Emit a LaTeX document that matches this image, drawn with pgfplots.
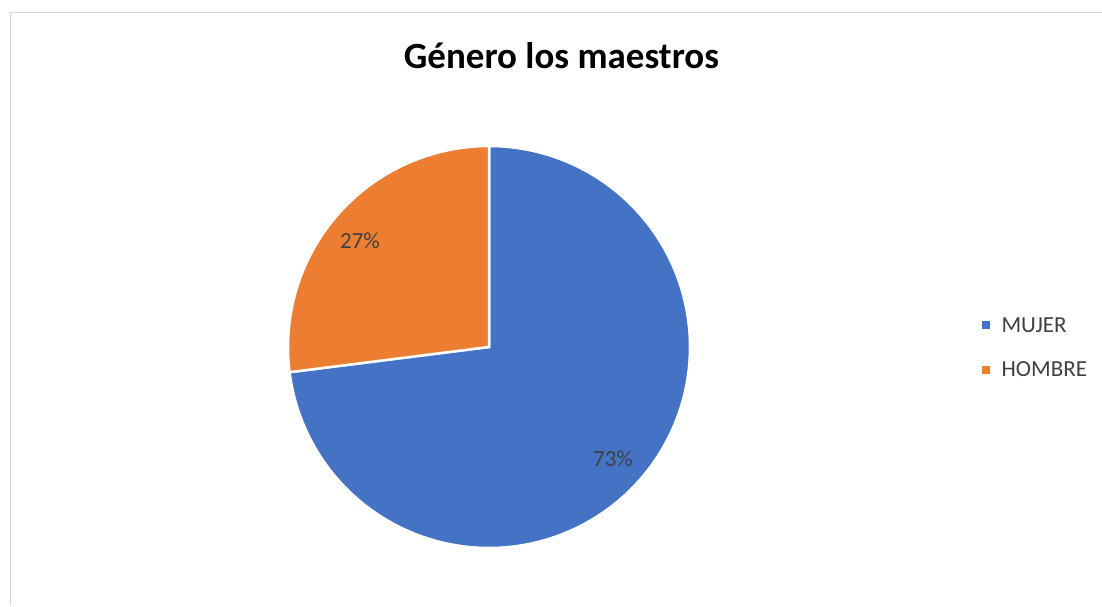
\documentclass[border=0pt]{standalone}
\usepackage{pgfplots}
\pgfplotsset{compat=1.18}
\usepackage{fontspec}
\setmainfont{Carlito}

\definecolor{mujer}{HTML}{4472C4}
\definecolor{hombre}{HTML}{ED7D31}
\definecolor{txt}{HTML}{404040}
\definecolor{marco}{HTML}{D9D9D9}

% porcentajes
\def\pMujer{73}
\def\pHombre{27}
% centro y radio de la torta (en pixeles)
\def\cx{489}
\def\cy{347}
\def\r{201}

\begin{document}
\begin{tikzpicture}
\pgfmathsetmacro{\aIni}{90}
\pgfmathsetmacro{\aMed}{90-3.6*\pMujer}
\pgfmathsetmacro{\aFin}{90-3.6*(\pMujer+\pHombre)}
\begin{axis}[
    scale only axis,
    width=1102pt, height=606pt,
    xmin=0, xmax=1102, ymin=0, ymax=606,
    y dir=reverse,
    hide axis,
    clip=false,
]
\coordinate (sw) at (axis cs:0,606);
\coordinate (ne) at (axis cs:1102,0);
% marco
\draw[marco, line width=1.2pt] (axis cs:10.5,606) -- (axis cs:10.5,12.5) -- (axis cs:1102,12.5);

% sectores
\addplot[fill=mujer, draw=white, line width=2.5pt, line join=miter, domain=\aIni:\aMed, samples=200]
    ({\cx+\r*cos(x)}, {\cy-\r*sin(x)}) -- (axis cs:\cx,\cy) -- cycle;
\addplot[fill=hombre, draw=white, line width=2.5pt, line join=miter, domain=\aMed:\aFin, samples=100]
    ({\cx+\r*cos(x)}, {\cy-\r*sin(x)}) -- (axis cs:\cx,\cy) -- cycle;

% etiquetas
\node[txt, font=\fontsize{23}{26}\selectfont] at (axis cs:360,241) {\pHombre\%};
\node[txt, font=\fontsize{23}{26}\selectfont] at (axis cs:613,459) {\pMujer\%};

% titulo
\node[black, font=\fontsize{37}{40}\selectfont\bfseries, anchor=base] at (axis cs:561.5,68) {Género los maestros};

% leyenda
\fill[mujer] (axis cs:982,321) rectangle (axis cs:990,329);
\node[txt, font=\fontsize{23}{26}\selectfont, anchor=base west] at (axis cs:998,332) {MUJER};
\fill[hombre] (axis cs:982,366) rectangle (axis cs:990,374);
\node[txt, font=\fontsize{23}{26}\selectfont, anchor=base west] at (axis cs:998,376) {HOMBRE};
\end{axis}
\pgfresetboundingbox
\useasboundingbox (sw) rectangle (ne);
\end{tikzpicture}
\end{document}
